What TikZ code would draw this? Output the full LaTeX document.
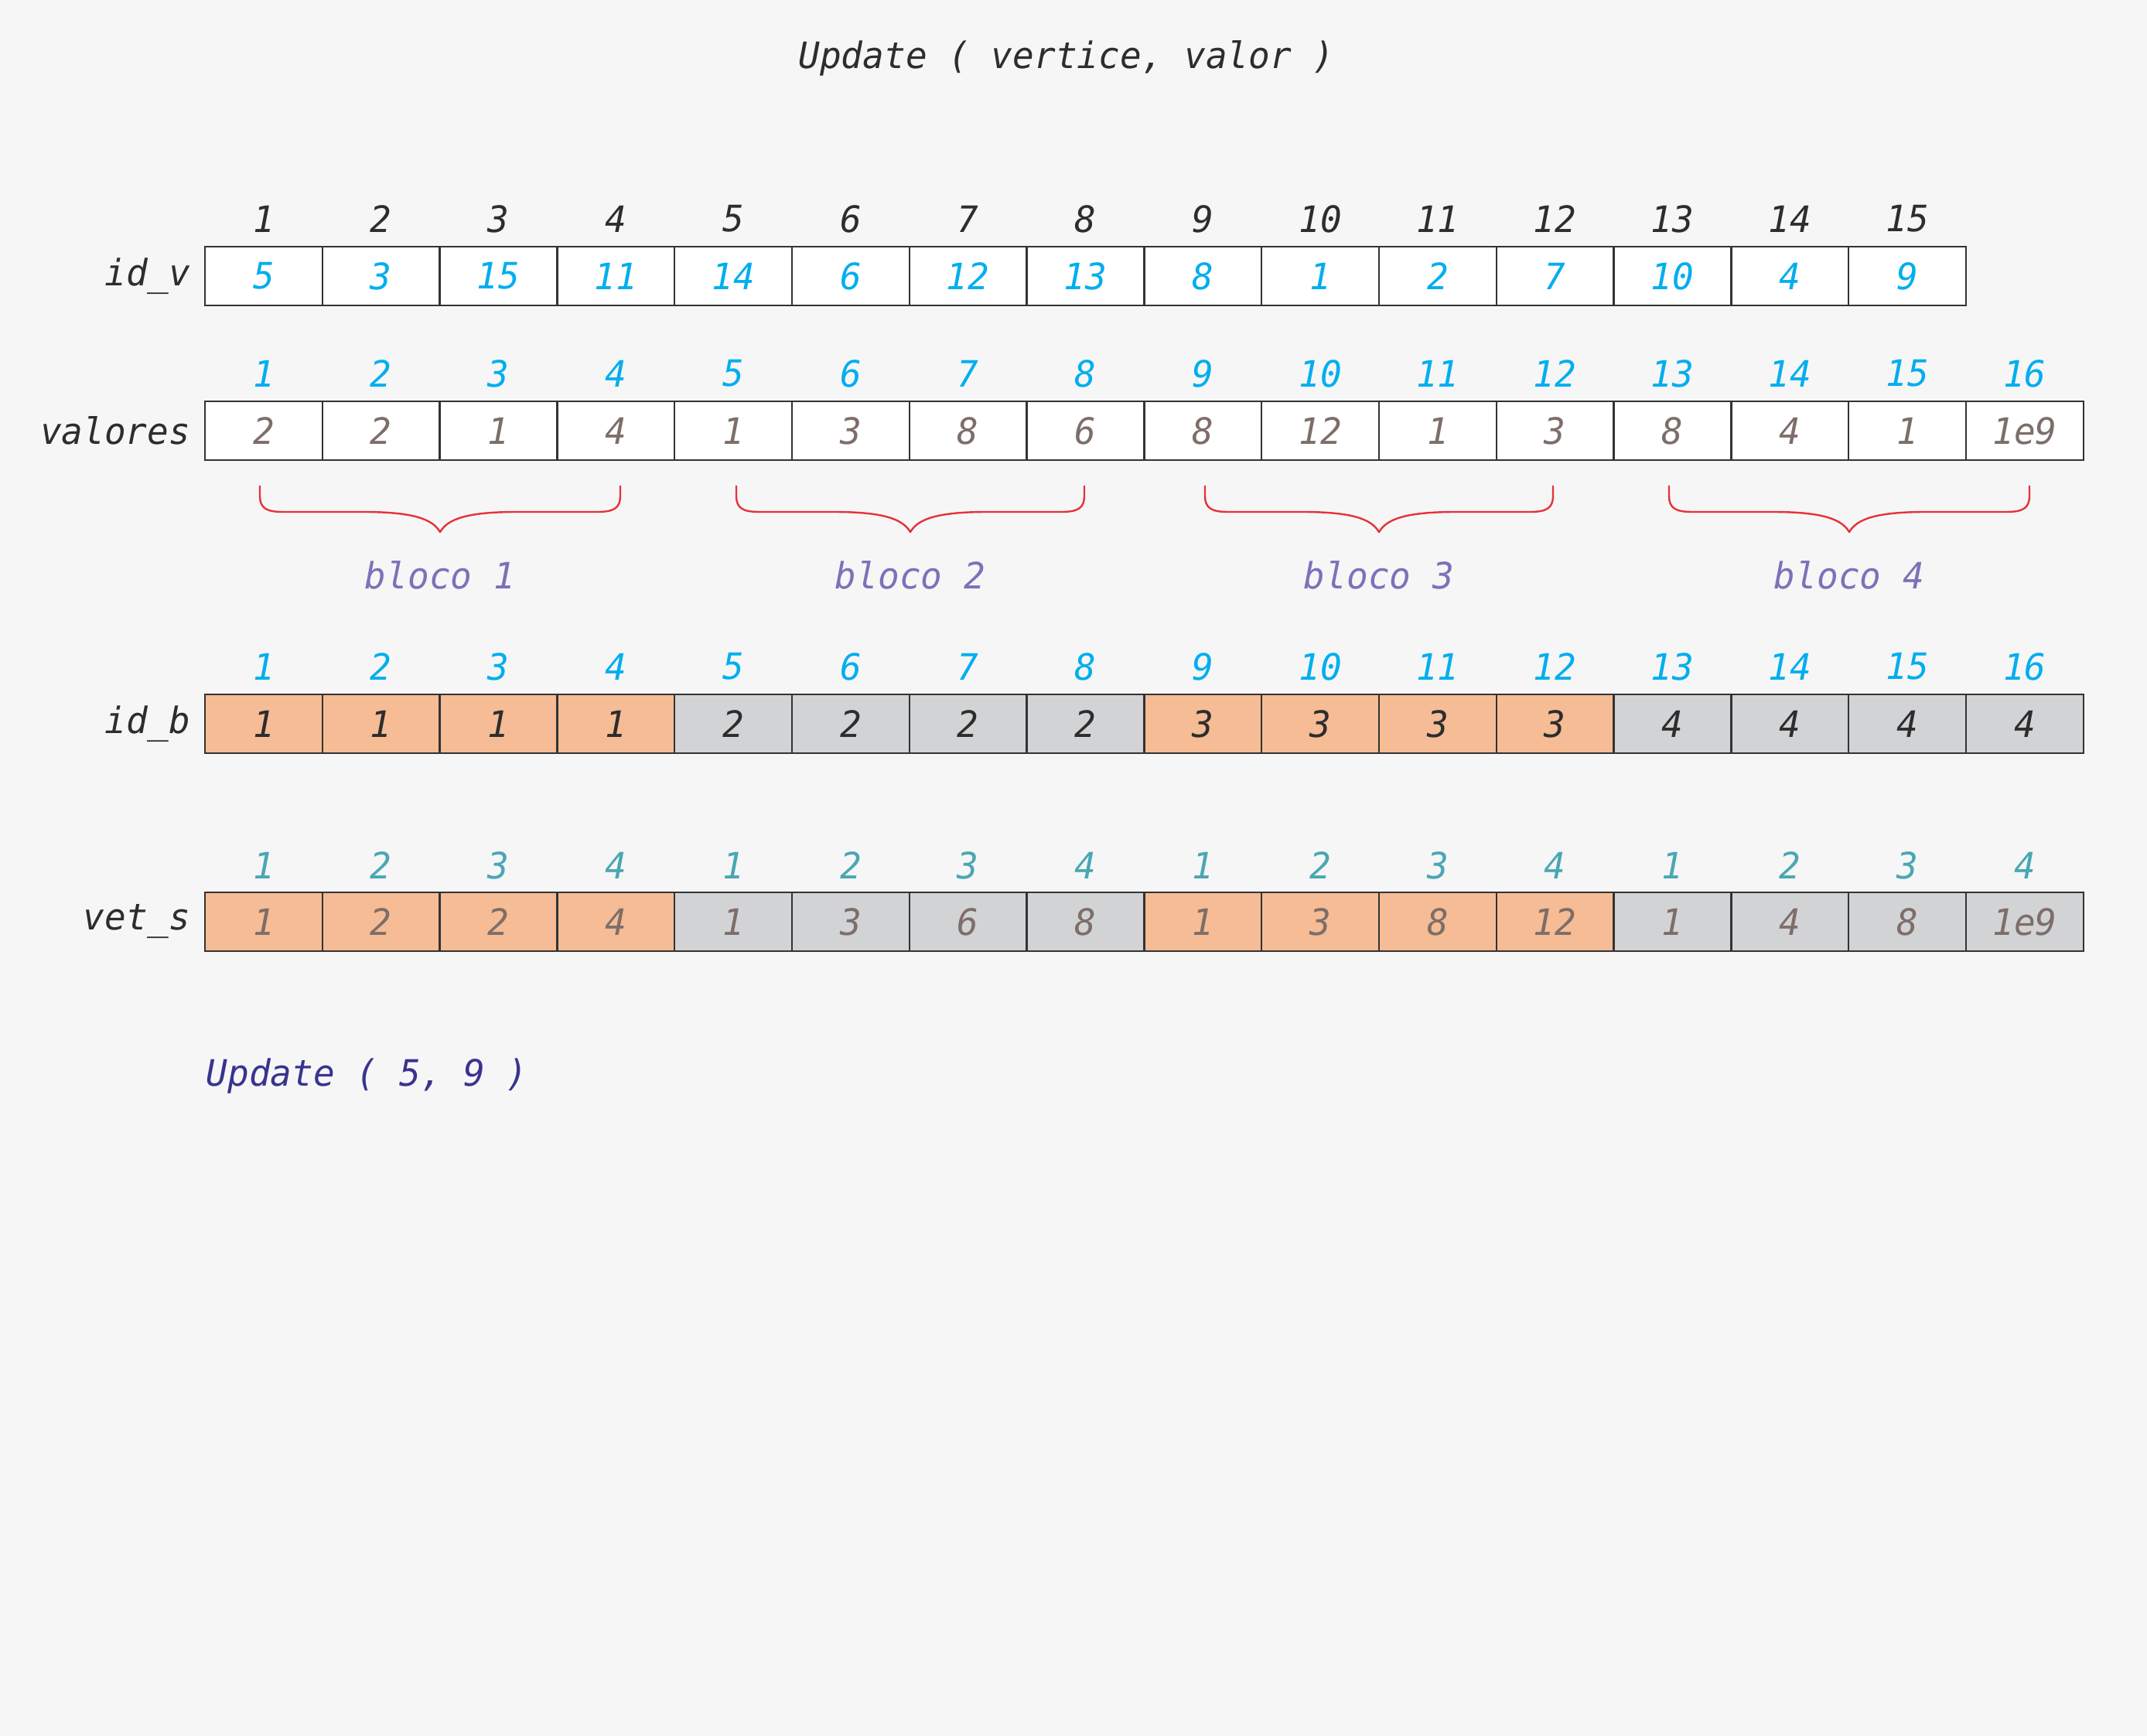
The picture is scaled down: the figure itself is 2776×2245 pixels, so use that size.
\documentclass[tikz,border=0pt]{standalone}
\usepackage{fontspec}
\newfontfamily\mono{DejaVu Sans Mono}[FakeStretch=0.98]
\definecolor{bg}{HTML}{F6F6F6}
\definecolor{cdark}{HTML}{2D2D2D}
\definecolor{cblue}{HTML}{00AEEF}
\definecolor{cval}{HTML}{7D6E69}
\definecolor{cteal}{HTML}{4AA7B3}
\definecolor{cpurple}{HTML}{7B72B9}
\definecolor{cnavy}{HTML}{38348F}
\definecolor{cor}{HTML}{F5BC95}
\definecolor{cgr}{HTML}{D2D3D5}
\definecolor{cred}{HTML}{E5323A}
\definecolor{cline}{HTML}{333333}
\begin{document}
\begin{tikzpicture}[x=0.25pt,y=-0.25pt,
  font=\mono\itshape\fontsize{11.75pt}{14pt}\selectfont,
  cell/.style={draw=cline, line width=0.6pt, minimum width=37.95pt, minimum height=19pt, inner sep=0pt, outer sep=0pt, anchor=center},
  idx/.style={inner sep=0pt, anchor=center},
  rowlabel/.style={inner sep=0pt, anchor=east, text=cdark},
  bracepath/.style={draw=cred, line width=0.6pt, line join=round}]
\fill[bg] (0,0) rectangle (2776,2245);
\useasboundingbox (0,0) rectangle (2776,2245);

% title
\node[inner sep=0pt, anchor=base, text=cdark] (title) at (1379,89) {Update ( vertice, valor )};

% id_v
\node[rowlabel] (lidv) at (247,357) {id\_v};
\foreach \v [count=\i] in {5,3,15,11,14,6,12,13,8,1,2,7,10,4,9} {
  \pgfmathsetmacro\cx{265+(\i-0.5)*151.8}
  \node[cell, fill=white, text=cblue] (v\i) at (\cx,357) {\v};
  \node[idx, text=cdark] (vi\i) at (\cx,283) {\i};
}

% valores
\node[rowlabel] (lval) at (247,557) {valores};
\foreach \v [count=\i] in {2,2,1,4,1,3,8,6,8,12,1,3,8,4,1,1e9} {
  \pgfmathsetmacro\cx{265+(\i-0.5)*151.8}
  \node[cell, fill=white, text=cval] (a\i) at (\cx,557) {\v};
  \node[idx, text=cblue] (ai\i) at (\cx,483) {\i};
}

% braces and block labels
\foreach \xa/\xb [count=\kk] in {336/802, 952/1402, 1558/2008, 2158/2624} {
  \pgfmathsetmacro\xm{(\xa+\xb)/2}
  \draw[bracepath] (\xa,628) -- (\xa,641) .. controls (\xa,657) and (\xa+8,662) .. (\xa+30,662)
    -- (\xm-100,662) .. controls (\xm-35,662) and (\xm-10,671) .. (\xm,688)
    .. controls (\xm+10,671) and (\xm+35,662) .. (\xm+100,662)
    -- (\xb-30,662) .. controls (\xb-8,662) and (\xb,657) .. (\xb,641) -- (\xb,628);
  \node[idx, text=cpurple] (bl\kk) at (\xm,744) {bloco \kk};
}

% id_b
\node[rowlabel] (lidb) at (247,936) {id\_b};
\foreach \i in {1,...,16} {
  \pgfmathsetmacro\cx{265+(\i-0.5)*151.8}
  \pgfmathtruncatemacro\blk{div(\i-1,4)+1}
  \pgfmathtruncatemacro\parity{mod(\blk,2)}
  \ifnum\parity=1 \def\fc{cor}\else\def\fc{cgr}\fi
  \node[cell, fill=\fc, text=cdark] (b\i) at (\cx,936) {\blk};
  \node[idx, text=cblue] (bi\i) at (\cx,862) {\i};
}

% vet_s
\node[rowlabel] (lvs) at (247,1192) {vet\_s};
\foreach \v [count=\i] in {1,2,2,4,1,3,6,8,1,3,8,12,1,4,8,1e9} {
  \pgfmathsetmacro\cx{265+(\i-0.5)*151.8}
  \pgfmathtruncatemacro\blk{div(\i-1,4)+1}
  \pgfmathtruncatemacro\parity{mod(\blk,2)}
  \pgfmathtruncatemacro\loc{mod(\i-1,4)+1}
  \ifnum\parity=1 \def\fc{cor}\else\def\fc{cgr}\fi
  \node[cell, fill=\fc, text=cval] (s\i) at (\cx,1192) {\v};
  \node[idx, text=cteal] (si\i) at (\cx,1119) {\loc};
}

% call
\node[inner sep=0pt, anchor=base west, text=cnavy] (call) at (266,1405) {Update ( 5, 9 )};
\end{tikzpicture}
\end{document}
